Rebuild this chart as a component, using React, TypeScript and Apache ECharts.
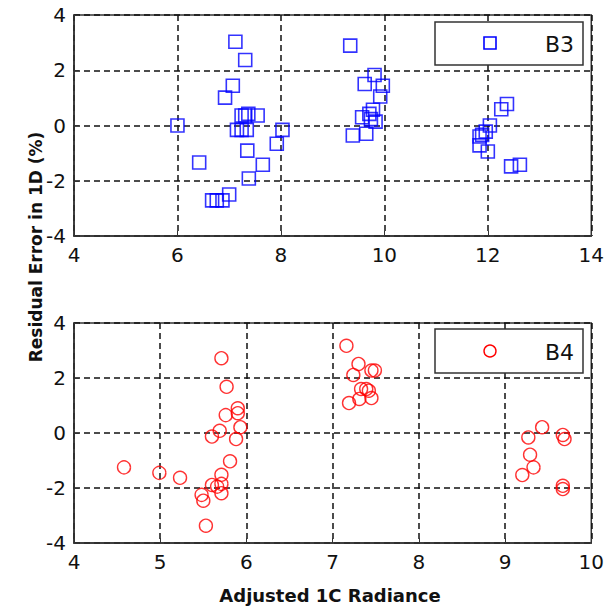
import React, { useEffect, useRef } from "react";
import * as echarts from "echarts";

const b3X = [6.0, 6.42, 7.12, 7.31, 7.07, 6.92, 7.24, 7.37, 7.55, 7.31, 7.15, 7.24, 7.34, 8.03, 7.92, 7.35, 7.65, 7.38, 7.0, 6.87, 6.76, 6.67, 9.34, 9.81, 9.62, 9.97, 9.92, 9.78, 9.71, 9.57, 9.83, 9.74, 9.39, 9.65, 12.37, 12.26, 12.04, 11.96, 11.89, 11.84, 11.84, 12.0, 12.62, 12.45];
const b3Y = [0, -1.34, 3.03, 2.37, 1.44, 1.01, 0.36, 0.42, 0.36, 0.36, -0.16, -0.16, -0.16, -0.16, -0.66, -0.91, -1.42, -1.92, -2.5, -2.71, -2.71, -2.71, 2.89, 1.83, 1.5, 1.44, 1.05, 0.57, 0.42, 0.3, 0.14, 0.23, -0.36, -0.3, 0.78, 0.59, 0, -0.22, -0.34, -0.4, -0.72, -0.94, -1.42, -1.48];

const b4X = [4.58, 4.99, 5.23, 5.71, 5.77, 5.76, 5.9, 5.9, 5.93, 5.69, 5.6, 5.88, 5.81, 5.71, 5.6, 5.71, 5.66, 5.71, 5.48, 5.5, 5.53, 7.16, 7.3, 7.24, 7.45, 7.49, 7.33, 7.39, 7.42, 7.31, 7.45, 7.19, 9.43, 9.27, 9.67, 9.69, 9.29, 9.33, 9.2, 9.67, 9.67];
const b4Y = [-1.25, -1.45, -1.63, 2.72, 1.68, 0.65, 0.9, 0.72, 0.21, 0.08, -0.13, -0.22, -1.03, -1.52, -1.89, -1.85, -1.95, -2.19, -2.25, -2.46, -3.37, 3.17, 2.51, 2.11, 2.27, 2.27, 1.6, 1.6, 1.54, 1.24, 1.27, 1.09, 0.21, -0.16, -0.07, -0.22, -0.79, -1.25, -1.53, -1.92, -2.04];

const seriesNames = ["B3", "B4"];
const xTitle = "Adjusted 1C Radiance";
const yTitle = "Residual Error in 1D (%)";

const tickFont = "DejaVu Sans";
const titleFont = "DejaVu Sans";

function makeXAxis(gridIndex: number, min: number, max: number, interval: number) {
  return {
    type: "value",
    gridIndex,
    min,
    max,
    interval,
    axisLine: { show: true, onZero: false, lineStyle: { color: "#333", width: 1.5 } },
    axisTick: { show: true, inside: true, length: 5, lineStyle: { color: "#333", width: 1 } },
    axisLabel: { fontFamily: tickFont, fontSize: 20, color: "#111", margin: 9 },
    splitLine: { show: true, lineStyle: { color: "#111", width: 1.5, type: [6, 4] } },
  };
}

function makeYAxis(gridIndex: number) {
  return {
    type: "value",
    gridIndex,
    min: -4,
    max: 4,
    interval: 2,
    axisLine: { show: true, onZero: false, lineStyle: { color: "#333", width: 1.5 } },
    axisTick: { show: true, inside: true, length: 5, lineStyle: { color: "#333", width: 1 } },
    axisLabel: { fontFamily: tickFont, fontSize: 20, color: "#111", margin: 8 },
    splitLine: { show: true, lineStyle: { color: "#111", width: 1.5, type: [6, 4] } },
  };
}

export default function App() {
  const ref = useRef<HTMLDivElement>(null);
  useEffect(() => {
    if (!ref.current) return;
    const chart = echarts.init(ref.current, undefined, { renderer: "svg" });
    const option = {
      animation: false,
      backgroundColor: "#fff",
      grid: [
        { left: 74, top: 15, width: 519, height: 221, show: true, borderColor: "#333", borderWidth: 1.5, backgroundColor: "transparent" },
        { left: 74, top: 323, width: 519, height: 220, show: true, borderColor: "#333", borderWidth: 1.5, backgroundColor: "transparent" },
      ],
      xAxis: [makeXAxis(0, 4, 14, 2), makeXAxis(1, 4, 10, 1)],
      yAxis: [makeYAxis(0), makeYAxis(1)],
      series: [
        {
          name: seriesNames[0],
          type: "scatter",
          xAxisIndex: 0,
          yAxisIndex: 0,
          symbol: "rect",
          symbolSize: 13,
          itemStyle: { color: "rgba(0,0,0,0)", borderColor: "#0000ff", borderWidth: 1.6 },
          data: b3X.map((x, i) => [x, b3Y[i]]),
        },
        {
          name: seriesNames[1],
          type: "scatter",
          xAxisIndex: 1,
          yAxisIndex: 1,
          symbol: "circle",
          symbolSize: 13,
          itemStyle: { color: "rgba(0,0,0,0)", borderColor: "#ff0000", borderWidth: 1.4 },
          data: b4X.map((x, i) => [x, b4Y[i]]),
        },
      ],
      graphic: [
        { type: "rect", shape: { x: 435, y: 22, width: 148, height: 43 }, style: { fill: "#fff", stroke: "#333", lineWidth: 1.5 }, z: 100 },
        { type: "rect", shape: { x: 484, y: 37, width: 12, height: 12 }, style: { fill: "none", stroke: "#0000ff", lineWidth: 1.6 }, z: 101 },
        { type: "text", x: 574, y: 44, style: { text: seriesNames[0], fontFamily: tickFont, fontSize: 22, fill: "#111", align: "right", verticalAlign: "middle" }, z: 101 },
        { type: "rect", shape: { x: 435, y: 329, width: 148, height: 44 }, style: { fill: "#fff", stroke: "#333", lineWidth: 1.5 }, z: 100 },
        { type: "circle", shape: { cx: 490, cy: 351, r: 6 }, style: { fill: "none", stroke: "#ff0000", lineWidth: 1.4 }, z: 101 },
        { type: "text", x: 574, y: 352, style: { text: seriesNames[1], fontFamily: tickFont, fontSize: 22, fill: "#111", align: "right", verticalAlign: "middle" }, z: 101 },
        { type: "text", x: 330, y: 595, style: { text: xTitle, fontFamily: titleFont, fontWeight: "bold", fontSize: 18, fill: "#111", align: "center", verticalAlign: "middle" } },
        { type: "text", x: 36, y: 247, rotation: Math.PI / 2, style: { text: yTitle, fontFamily: titleFont, fontWeight: "bold", fontSize: 17, fill: "#111", align: "center", verticalAlign: "middle" } },
      ],
    };
    chart.setOption(option as any);
    return () => chart.dispose();
  }, []);
  return <div ref={ref} style={{ width: 607, height: 608, position: "absolute", left: 0, top: 0 }} />;
}
